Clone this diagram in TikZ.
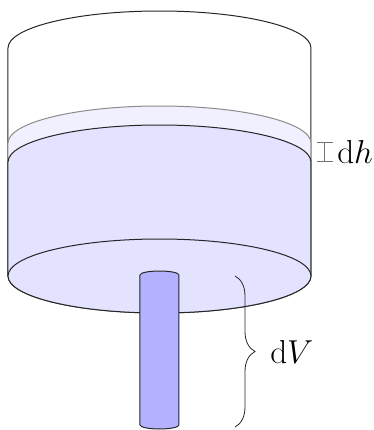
\documentclass[tikz,border=0pt]{standalone}
\usepackage{amsmath,amssymb}
\usepackage{tikz}
\usetikzlibrary{arrows.meta,decorations.pathreplacing,calc}

\begin{document}
\begin{tikzpicture}[
  x=0.75pt, y=0.75pt,
  font=\fontsize{25}{30}\selectfont,
  wall/.style={draw=black!85, line width=0.75pt},
  layerold/.style={draw=black!45, line width=0.75pt, fill=blue!6},
  layernew/.style={draw=black!85, line width=0.75pt, fill=blue!11},
  pipe/.style={draw=black!85, line width=0.75pt, fill=blue!30},
  gap/.style={draw=black!55, line width=0.75pt, {Bar[width=4.4mm,line width=0.6pt]}-{Bar[width=4.4mm,line width=0.6pt]}},
  bracedown/.style={draw=black!85, line width=0.6pt, decorate,
                    decoration={brace, amplitude=15pt}},
]
\useasboundingbox (0,0) rectangle (374,430);

% Tank outline
\draw[wall] (8,154) -- (8,382) arc[start angle=180, end angle=0, x radius=151.5, y radius=37] -- (311,154);

% Water levels
\draw[layerold] (8,154) -- (8,287) arc[start angle=180, end angle=0, x radius=151.5, y radius=37] -- (311,154);
\draw[layernew] (8,154) -- (8,268) arc[start angle=180, end angle=0, x radius=151.5, y radius=37] -- (311,154)
  arc[start angle=0, end angle=-180, x radius=151.5, y radius=37] -- cycle;

% Bottom of the tank
\draw[layernew] (159.5,154) ellipse[x radius=151.5, y radius=37];

% Outlet
\draw[pipe] (140,5) -- (140,155) arc[start angle=180, end angle=0, x radius=19.5, y radius=4]
  -- (179,5) arc[start angle=0, end angle=-180, x radius=19.5, y radius=4] -- cycle;

% Labels
\coordinate (gaptop) at (325,288);
\coordinate (gapbot) at (325,268);
\draw[gap] (gapbot) -- (gaptop);
\node[anchor=base west, inner sep=0pt] (dh) at (337,267) {$\mathrm{d}h$};

\coordinate (bracetop) at (235,154);
\coordinate (bracebot) at (235,3);
\draw[bracedown] (bracetop) -- (bracebot);
\node[anchor=base west, inner sep=0pt] (dV) at (270,67) {$\mathrm{d}V$};
\end{tikzpicture}
\end{document}
